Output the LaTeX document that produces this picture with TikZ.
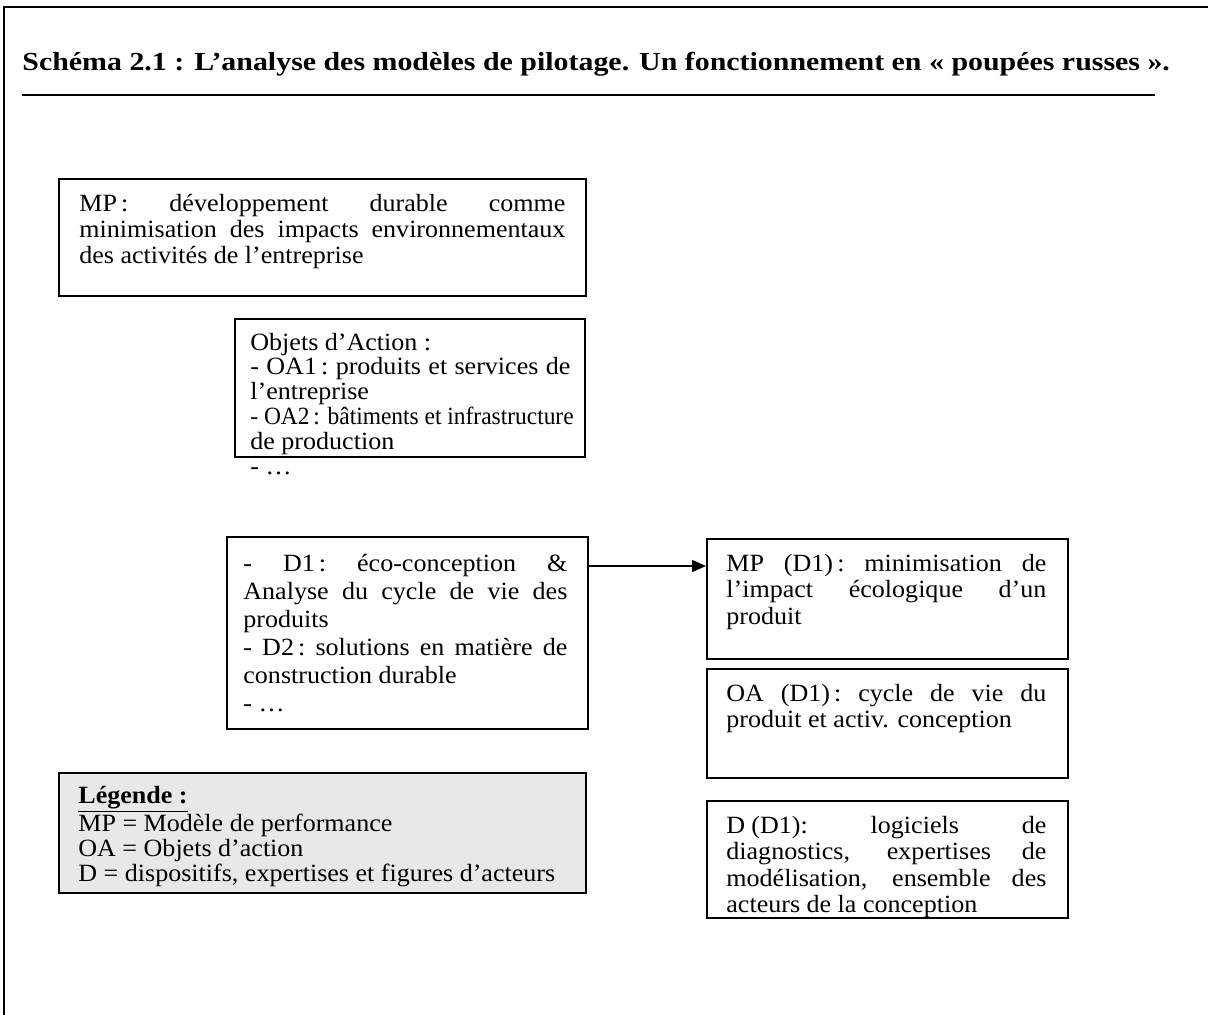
\documentclass[tikz,border=0pt]{standalone}
\usepackage{fontspec}
\usepackage{graphicx}
\setmainfont{Liberation Serif}[FakeStretch=1.05]
\newfontfamily\titlefont{Liberation Serif}[FakeStretch=1.15]
\usetikzlibrary{arrows.meta}
\newcommand\bodyfont{\fontsize{12.4pt}{13.25pt}\selectfont}
\newcommand\J[1]{\hbox to \linewidth{\spaceskip=.28em plus 1fil minus .1em\xspaceskip=\spaceskip #1}}
\newcommand\R[1]{\hbox to \linewidth{#1\hss}}
\begin{document}
\begin{tikzpicture}[x=0.5pt,y=-0.5pt,
  box/.style={draw, line width=0.9pt, anchor=north west, inner sep=0pt},
  txt/.style={anchor=base west, inner sep=0pt, font=\bodyfont},
  arr/.style={line width=0.8pt, -{Triangle[length=7pt,width=6pt]}}]
\useasboundingbox (0,0) rectangle (1208,1014);
% outer frame (continues beyond the page)
\draw[line width=1.4pt] (4,1030) -- (4,7) -- (1230,7);
% title
\node[anchor=base west, inner sep=0pt, font=\titlefont\fontsize{13pt}{15pt}\selectfont\bfseries] (title) at (22,70)
  {Schéma 2.1 : L’analyse des modèles de pilotage. Un fonctionnement en « poupées russes ».};
\draw[line width=1pt] (22,95) -- (1155,95);
% MP box
\node[box, minimum width=263.5pt, minimum height=58.5pt] (mp) at (58,178) {};
\node[txt] (mpt) at (79,211) {\parbox[t]{243pt}{\baselineskip=13pt
  \J{MP\,: développement durable comme}
  \J{minimisation des impacts environnementaux}
  \R{des activités de l’entreprise}}};
% OA box
\node[box, minimum width=175pt, minimum height=69pt] (oa) at (234,318) {};
\node[txt] (oat) at (250,350) {\parbox[t]{160pt}{\baselineskip=12.4pt
  \R{Objets d’Action :}
  \J{- OA1\,: produits et services de}
  \R{l’entreprise}
  \R{\scalebox{0.9}[1]{- OA2\,: bâtiments et infrastructure}}
  \R{de production}
  \R{- …}}};
% D box
\node[box, minimum width=180.5pt, minimum height=96pt] (d) at (226,536) {};
\node[txt] (dt) at (243,571) {\parbox[t]{162pt}{\baselineskip=14pt
  \J{- D1\,: éco-conception \&}
  \J{Analyse du cycle de vie des}
  \R{produits}
  \J{- D2\,: solutions en matière de}
  \R{construction durable}
  \R{- …}}};
% MP(D1)
\node[box, minimum width=180.5pt, minimum height=60pt] (mpd) at (706,538) {};
\node[txt] (mpdt) at (726,571) {\parbox[t]{160pt}{\baselineskip=13.25pt
  \J{MP (D1)\,: minimisation de}
  \J{l’impact écologique d’un}
  \R{produit}}};
% OA(D1)
\node[box, minimum width=180.5pt, minimum height=54.5pt] (oad) at (706,668) {};
\node[txt] (oadt) at (726,701) {\parbox[t]{160pt}{\baselineskip=13.25pt
  \J{OA (D1)\,: cycle de vie du}
  \R{produit et activ. conception}}};
% D(D1)
\node[box, minimum width=180.5pt, minimum height=58.5pt] (dd) at (706,800) {};
\node[txt] (ddt) at (726,833) {\parbox[t]{160pt}{\baselineskip=13.25pt
  \J{D\hspace{.25em}(D1): logiciels de}
  \J{diagnostics, expertises de}
  \J{modélisation, ensemble des}
  \R{acteurs de la conception}}};
% legend
\node[box, fill=black!9, minimum width=263.5pt, minimum height=60pt] (leg) at (58,772) {};
\node[txt] (legt) at (78,803) {\parbox[t]{245pt}{\baselineskip=12.4pt
  \R{\textbf{\underline{Légende :}}}
  \R{MP = Modèle de performance}
  \R{OA = Objets d’action}
  \R{D = dispositifs, expertises et figures d’acteurs}}};
% arrow
\draw[arr] (d.north east |- 0,566) -- (mpd.west |- 0,566);
\end{tikzpicture}
\end{document}
